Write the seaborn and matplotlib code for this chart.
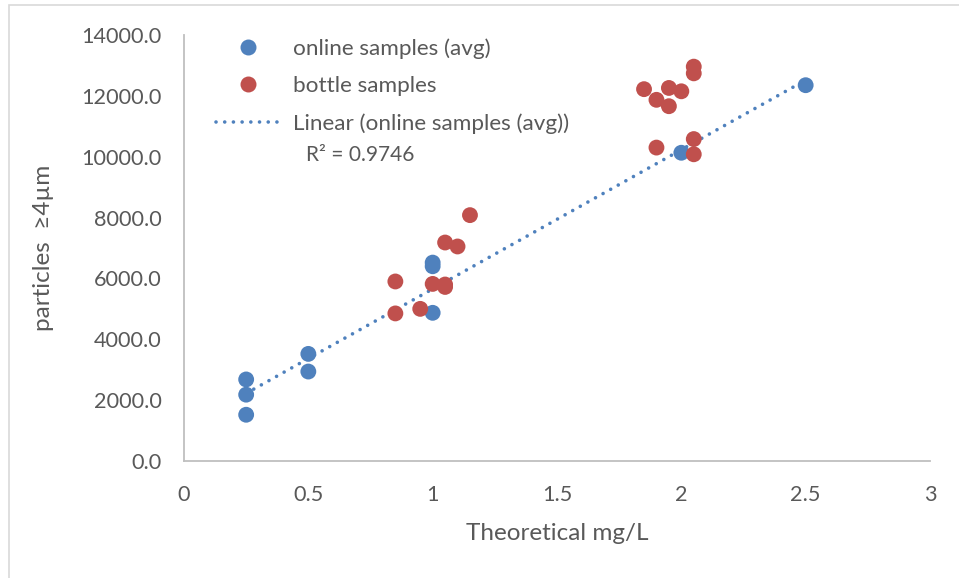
import numpy as np
import pandas as pd
import matplotlib
matplotlib.use("Agg")
import matplotlib.pyplot as plt
import seaborn as sns
from matplotlib.lines import Line2D
from matplotlib.patches import Rectangle

# ---- data ----
online_x = [0.25, 0.25, 0.25, 0.5, 0.5, 1.0, 1.0, 1.0, 2.0, 2.5]
online_y = [2680, 2180, 1520, 3520, 2940, 6520, 6400, 4870, 10130, 12350]

bottle_x = [0.85, 0.85, 0.95, 1.0, 1.05, 1.05, 1.05, 1.1, 1.15,
            1.85, 1.9, 1.95, 1.95, 2.0, 2.05, 2.05, 1.9, 2.05, 2.05]
bottle_y = [5900, 4850, 5000, 5820, 7180, 5800, 5720, 7050, 8080,
            12220, 11870, 12260, 11660, 12150, 12960, 12740, 10300, 10580, 10080]

x_ticks = [0, 0.5, 1, 1.5, 2, 2.5, 3]
x_tick_labels = ["0", "0.5", "1", "1.5", "2", "2.5", "3"]
y_ticks = [0, 2000, 4000, 6000, 8000, 10000, 12000, 14000]

series_names = ["online samples (avg)", "bottle samples", "Linear (online samples (avg))"]
r2_label = "R\u00b2 = 0.9746"

BLUE = "#4F81BD"
RED = "#C0504D"
GREY_TXT = "#595959"
GREY_LINE = "#BFBFBF"

sns.set_theme(style="white")
plt.rcParams["font.family"] = ["Lato", "DejaVu Sans"]

df_on = pd.DataFrame({"x": online_x, "y": online_y})
df_bo = pd.DataFrame({"x": bottle_x, "y": bottle_y})

fig = plt.figure(figsize=(9.59, 5.78), dpi=100)
ax = fig.add_axes([184 / 959, 1 - 461 / 578, (930 - 184) / 959, (461 - 35) / 578])

# outer chart border
fig.patches.append(Rectangle((9 / 959, -0.1), 1.2, 1 - 5 / 578 + 0.1, transform=fig.transFigure,
                             fill=False, edgecolor="#D9D9D9", linewidth=1.2, zorder=0))

ms = 130
dots = (0, (0.01, 2.4))
sns.regplot(data=df_on, x="x", y="y", ax=ax, ci=None, scatter=False, truncate=True,
            line_kws=dict(color=BLUE, lw=2.6, linestyle=dots,
                          dash_capstyle="round", zorder=2))
sns.scatterplot(data=df_on, x="x", y="y", ax=ax, color=BLUE, s=ms, edgecolor="none", zorder=3)
sns.scatterplot(data=df_bo, x="x", y="y", ax=ax, color=RED, s=ms, edgecolor="none", zorder=3)

ax.set_xlim(0, 3)
ax.set_ylim(0, 14000)
ax.set_xticks(x_ticks)
ax.set_xticklabels(x_tick_labels)
ax.set_yticks(y_ticks)
ax.set_yticklabels([f"{v:.1f}" for v in y_ticks])
ax.tick_params(axis="both", length=0, labelsize=15.6, labelcolor=GREY_TXT)
ax.tick_params(axis="y", pad=16)
ax.tick_params(axis="x", pad=17)

for side in ["top", "right"]:
    ax.spines[side].set_visible(False)
for side in ["left", "bottom"]:
    ax.spines[side].set_color(GREY_LINE)
    ax.spines[side].set_linewidth(1.3)

ax.set_xlabel("Theoretical mg/L", fontsize=17.5, color=GREY_TXT, labelpad=13)
ax.set_ylabel("particles  \u22654\u00b5m", fontsize=17.5, color=GREY_TXT, labelpad=20)

handles = [
    Line2D([], [], marker="o", linestyle="none", markersize=11.5, color=BLUE, markeredgecolor="none"),
    Line2D([], [], marker="o", linestyle="none", markersize=11.5, color=RED, markeredgecolor="none"),
    Line2D([], [], color=BLUE, lw=2.6, linestyle=dots, dash_capstyle="round"),
]
leg = ax.legend(handles, series_names, loc="upper left",
                bbox_to_anchor=(216 / 959, 1 - 38 / 578), bbox_transform=fig.transFigure,
                frameon=False, fontsize=16.2, handlelength=2.85, handletextpad=0.58,
                labelspacing=0.78, borderpad=0, borderaxespad=0)
for t in leg.get_texts():
    t.set_color(GREY_TXT)

fig.text(306 / 959, 1 - 155 / 578, r2_label, fontsize=15, color=GREY_TXT, va="center", ha="left")

fig.savefig("out.png", dpi=100)
